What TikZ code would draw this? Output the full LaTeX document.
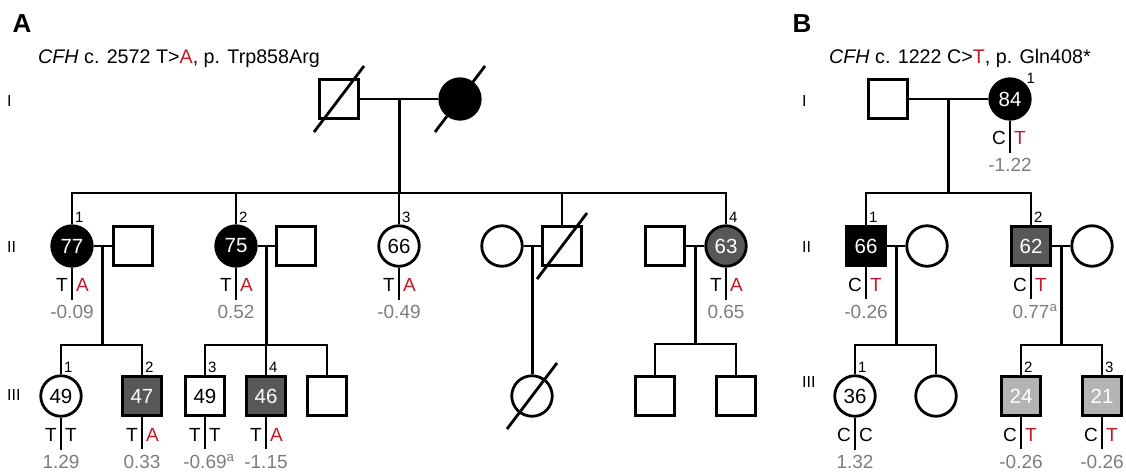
\documentclass[tikz,border=0pt]{standalone}
\usepackage{fontspec}
\setmainfont{Liberation Sans}
\usepackage{xcolor}
\usetikzlibrary{calc}
\definecolor{mutred}{RGB}{196,24,40}
\definecolor{valgray}{RGB}{125,125,125}
\definecolor{affdark}{RGB}{88,88,88}
\definecolor{affpale}{RGB}{180,180,180}

% 基因型
\newcommand{\geno}[4]{%
  \draw[line width=1.3pt] (#1.south) -- ++(0,32) coordinate (#1-g);
  \node[allele, anchor=base east] (#1-a) at ($(#1.south)+(-4,24)$) {#2};
  \node[allele, anchor=base west] (#1-b) at ($(#1.south)+(4,24)$) {#3};
  \node[valtext] (#1-v) at ($(#1.south)+(0,51)$) {#4};
}

\begin{document}
\begin{tikzpicture}[x=1pt, y=-1pt,
    ped/.style={line width=2.8pt},
    male/.style={draw, line width=2.8pt, minimum size=39.5pt, inner sep=0pt, font=\fontsize{20.5}{22}\selectfont},
    female/.style={male, circle, minimum size=40.5pt},
    aff/.style={fill=black, text=white},
    affd/.style={fill=affdark, text=white},
    affl/.style={fill=affpale, text=white},
    num/.style={font=\fontsize{15}{15}\selectfont, inner sep=0pt, anchor=south west},
    allele/.style={font=\fontsize{19}{19}\selectfont, inner sep=0pt},
    valtext/.style={font=\fontsize{19}{19}\selectfont, text=valgray, inner sep=0pt, anchor=base},
    genlab/.style={font=\fontsize{16}{16}\selectfont, anchor=west, inner sep=0pt},
    panel/.style={font=\fontsize{26}{26}\selectfont\bfseries, inner sep=0pt},
    titletext/.style={font=\fontsize{19.7}{20}\selectfont, anchor=base west, inner sep=0pt}]
    \useasboundingbox (0,0) rectangle (1126,472);

    % 标题 A
    \node[panel] (labA) at (22,24) {A};
    \node[titletext] (titA) at (38,63) {\textit{CFH} c. 2572 T>\textcolor{mutred}{A}, p. Trp858Arg};
    \node[genlab] (gAI) at (7,101) {I};
    \node[genlab] (gAII) at (7,247) {II};
    \node[genlab] (gAIII) at (7,395) {III};

    % 第一代 A
    \node[male] (AI1) at (339,99) {};
    \node[female, aff] (AI2) at (460,99) {};
    \draw[ped] (AI1.east) -- (AI2.west);
    \coordinate (AmI) at ($(AI1.east)!.5!(AI2.west)$);
    \coordinate (AsI) at ($(AmI)+(0,94)$);
    \draw[ped] (AmI) -- (AsI);

    % 第二代 A
    \node[female, aff] (AII1) at (72,246) {77};
    \node[male] (AII1s) at (133,246) {};
    \node[female, aff] (AII2) at (236,246) {75};
    \node[male] (AII2s) at (296,246) {};
    \node[female] (AII3) at (399,246) {66};
    \node[female] (AII5s) at (502,246) {};
    \node[male] (AII5) at (562,246) {};
    \node[male] (AII4s) at (665,246) {};
    \node[female, affd] (AII4) at (726,246) {63};
    \foreach \n in {AII1, AII2, AII3, AII5, AII4}
        \draw[ped] (\n.north) |- (AsI);

    % 婚配线 A
    \draw[ped] (AII1.east) -- (AII1s.west);
    \coordinate (AmII1) at ($(AII1.east)!.5!(AII1s.west)$);
    \draw[ped] (AII2.east) -- (AII2s.west);
    \coordinate (AmII2) at ($(AII2.east)!.5!(AII2s.west)$);
    \draw[ped] (AII5s.east) -- (AII5.west);
    \coordinate (AmII5) at ($(AII5s.east)!.5!(AII5.west)$);
    \draw[ped] (AII4s.east) -- (AII4.west);
    \coordinate (AmII4) at ($(AII4s.east)!.5!(AII4.west)$);

    % 第三代 A
    \node[female] (AIII1) at (61,396) {49};
    \node[male, affd] (AIII2) at (142,396) {47};
    \node[male] (AIII3) at (205,396) {49};
    \node[male, affd] (AIII4) at (266,396) {46};
    \node[male] (AIII5) at (327,396) {};
    \node[female] (AIII6) at (532,396) {};
    \node[male] (AIII7) at (655,396) {};
    \node[male] (AIII8) at (736,396) {};

    \coordinate (AsII1) at ($(AmII1)+(0,99)$);
    \draw[ped] (AmII1) -- (AsII1);
    \foreach \n in {AIII1, AIII2}
        \draw[ped] (\n.north) |- (AsII1);
    \coordinate (AsII2) at ($(AmII2)+(0,99)$);
    \draw[ped] (AmII2) -- (AsII2);
    \foreach \n in {AIII3, AIII4, AIII5}
        \draw[ped] (\n.north) |- (AsII2);
    \draw[ped] (AmII5) -- (AmII5 |- AIII6.north);
    \coordinate (AsII4) at ($(AmII4)+(0,98)$);
    \draw[ped] (AmII4) -- (AsII4);
    \foreach \n in {AIII7, AIII8}
        \draw[ped] (\n.north) |- (AsII4);

    % 已故
    \foreach \n in {AI1, AI2, AII5, AIII6}
        \draw[ped] ($(\n)+(-25,33)$) -- ($(\n)+(25,-33)$);

    % 标题 B
    \node[panel] (labB) at (802,24) {B};
    \node[titletext] (titB) at (829,63) {\textit{CFH} c. 1222 C>\textcolor{mutred}{T}, p. Gln408*};
    \node[genlab] (gBI) at (802,101) {I};
    \node[genlab] (gBII) at (802,247) {II};
    \node[genlab] (gBIII) at (802,382) {III};

    % 第一代 B
    \node[male] (BI1) at (888,99) {};
    \node[female, aff] (BI2) at (1010,99) {84};
    \draw[ped] (BI1.east) -- (BI2.west);
    \coordinate (BmI) at ($(BI1.east)!.5!(BI2.west)$);
    \coordinate (BsI) at ($(BmI)+(0,94)$);
    \draw[ped] (BmI) -- (BsI);

    % 第二代 B
    \node[male, aff] (BII1) at (866,246) {66};
    \node[female] (BII1s) at (927,246) {};
    \node[male, affd] (BII2) at (1031,246) {62};
    \node[female] (BII2s) at (1092,246) {};
    \foreach \n in {BII1, BII2}
        \draw[ped] (\n.north) |- (BsI);
    \draw[ped] (BII1.east) -- (BII1s.west);
    \coordinate (BmII1) at ($(BII1.east)!.5!(BII1s.west)$);
    \draw[ped] (BII2.east) -- (BII2s.west);
    \coordinate (BmII2) at ($(BII2.east)!.5!(BII2s.west)$);

    % 第三代 B
    \node[female] (BIII1) at (855,396) {36};
    \node[female] (BIII2) at (936,396) {};
    \node[male, affl] (BIII3) at (1021,396) {24};
    \node[male, affl] (BIII4) at (1102,396) {21};
    \coordinate (BsII1) at ($(BmII1)+(0,99)$);
    \draw[ped] (BmII1) -- (BsII1);
    \foreach \n in {BIII1, BIII2}
        \draw[ped] (\n.north) |- (BsII1);
    \coordinate (BsII2) at ($(BmII2)+(0,99)$);
    \draw[ped] (BmII2) -- (BsII2);
    \foreach \n in {BIII3, BIII4}
        \draw[ped] (\n.north) |- (BsII2);

    % 编号
    \foreach \n/\t in {AII1/1, AII2/2, AII3/3, AII4/4, AIII1/1, AIII2/2, AIII3/3, AIII4/4,
                       BII1/1, BII2/2, BIII1/1, BIII3/2, BIII4/3}
        \node[num] (\n-n) at ($(\n.north)+(3,-2)$) {\t};
    \node[num] (BI2-n) at ($(BI2.north east)+(1,0)$) {1};

    % 基因型
    \geno{AII1}{T}{\textcolor{mutred}{A}}{-0.09}
    \geno{AII2}{T}{\textcolor{mutred}{A}}{0.52}
    \geno{AII3}{T}{\textcolor{mutred}{A}}{-0.49}
    \geno{AII4}{T}{\textcolor{mutred}{A}}{0.65}
    \geno{AIII1}{T}{T}{1.29}
    \geno{AIII2}{T}{\textcolor{mutred}{A}}{0.33}
    \geno{AIII3}{T}{T}{-0.69\rlap{\textsuperscript{a}}}
    \geno{AIII4}{T}{\textcolor{mutred}{A}}{-1.15}
    \geno{BI2}{C}{\textcolor{mutred}{T}}{-1.22}
    \geno{BII1}{C}{\textcolor{mutred}{T}}{-0.26}
    \geno{BII2}{C}{\textcolor{mutred}{T}}{0.77\rlap{\textsuperscript{a}}}
    \geno{BIII1}{C}{C}{1.32}
    \geno{BIII3}{C}{\textcolor{mutred}{T}}{-0.26}
    \geno{BIII4}{C}{\textcolor{mutred}{T}}{-0.26}
\end{tikzpicture}
\end{document}
